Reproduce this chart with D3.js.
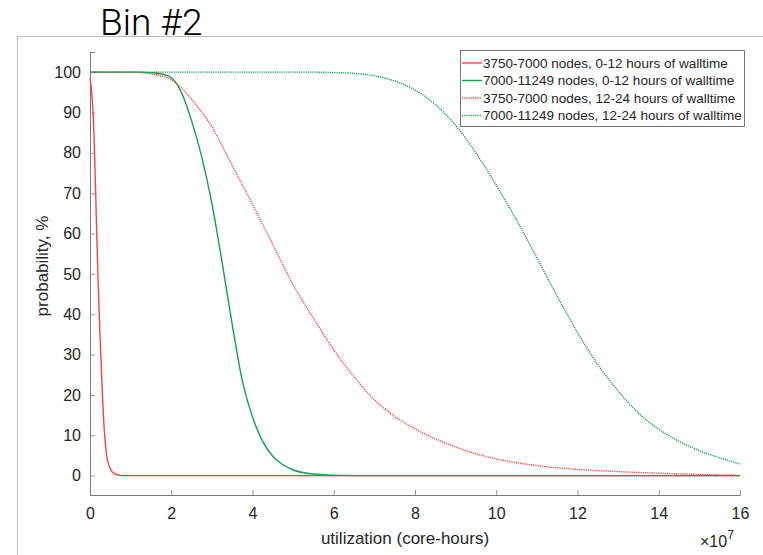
<!DOCTYPE html>
<html>
<head>
  <meta charset="UTF-8">
  <title>Bin #2</title>
  <style>
    body { margin: 0; background: #fff; }
    svg { display: block; }
    text { font-family: "Liberation Sans", Arial, Helvetica, sans-serif; fill: #262626; }
    .title { font-family: Roboto, "Liberation Sans", sans-serif; font-weight: 300; fill: #000; }
  </style>
</head>
<body>
  <div id="chart"></div>
  <script src="https://d3js.org/d3.v7.min.js"></script>
  <script>
    // values (x in units of 1e7 core-hours, y in %)
    const xTicks = [0, 2, 4, 6, 8, 10, 12, 14, 16];
    const yTicks = [0, 10, 20, 30, 40, 50, 60, 70, 80, 90, 100];

    const seriesNames = [
      "3750-7000 nodes, 0-12 hours of walltime",
      "7000-11249 nodes, 0-12 hours of walltime",
      "3750-7000 nodes, 12-24 hours of walltime",
      "7000-11249 nodes, 12-24 hours of walltime"
    ];

    const redSolidX = [0, 0.05, 0.1, 0.15, 0.2, 0.25, 0.3, 0.35, 0.4, 0.45, 0.5, 0.55, 0.6, 0.7, 0.8, 16];
    const redSolidY = [98.5, 94, 84, 66, 48, 34, 21.5, 11.5, 5.8, 3.1, 1.7, 0.9, 0.5, 0.15, 0, 0];

    const greenSolidX = [0, 1.25, 1.5, 1.75, 2, 2.25, 2.5, 2.75, 3, 3.25, 3.5, 3.75, 4, 4.25, 4.5, 4.75, 5, 5.5, 6, 6.5, 16];
    const greenSolidY = [100, 100, 99.9, 99.6, 98.6, 95, 88, 79, 67.5, 53, 37.5, 23.5, 14.5, 8.5, 4.8, 2.7, 1.4, 0.4, 0.1, 0, 0];

    const redDotX = [0, 1, 1.5, 2, 2.5, 3, 3.5, 4, 4.5, 5, 5.5, 6, 6.5, 7, 7.5, 8, 9, 10, 11, 12, 13, 14, 15, 16];
    const redDotY = [100, 100, 99.6, 98.1, 93.3, 86.4, 76.9, 67.2, 57.3, 47.3, 39, 31.2, 24.5, 18.8, 14.7, 11.6, 7.1, 4.15, 2.5, 1.55, 1, 0.6, 0.3, 0.1];

    const greenDotX = [0, 5.5, 6, 6.5, 7, 7.5, 8, 8.5, 9, 9.5, 10, 10.5, 11, 11.5, 12, 12.5, 13, 13.5, 14, 14.5, 15, 15.5, 16];
    const greenDotY = [100, 100, 99.9, 99.7, 99.1, 97.8, 95.6, 92, 86.8, 80, 72, 63.3, 54, 44.5, 35.5, 27.5, 21, 15.5, 11.5, 8.5, 6.2, 4.4, 2.9];

    const red = "#ff4040";
    const green = "#14a05a";

    const series = [
      { name: seriesNames[0], xs: redSolidX, ys: redSolidY, color: red, dash: null },
      { name: seriesNames[1], xs: greenSolidX, ys: greenSolidY, color: green, dash: null },
      { name: seriesNames[2], xs: redDotX, ys: redDotY, color: red, dash: "1.2,1" },
      { name: seriesNames[3], xs: greenDotX, ys: greenDotY, color: green, dash: "1.2,1" }
    ];

    const width = 763, height = 555;
    const svg = d3.select("#chart").append("svg")
      .attr("width", width)
      .attr("height", height);

    // outer grey frame
    svg.append("rect")
      .attr("x", 17.5).attr("y", 36.5)
      .attr("width", 800).attr("height", 600)
      .attr("fill", "none")
      .attr("stroke", "#bdbdbd");

    svg.append("text")
      .attr("class", "title")
      .attr("x", 100).attr("y", 35)
      .attr("font-size", "37px")
      .text("Bin #2");

    const x = d3.scaleLinear().domain([0, 16]).range([90, 740]);
    const y = d3.scaleLinear().domain([-4.8, 105]).range([495, 52]);

    const xAxis = svg.append("g")
      .attr("transform", "translate(0,495)")
      .call(d3.axisBottom(x).tickValues(xTicks).tickSize(-5).tickPadding(13).tickFormat(d3.format("d")));
    const yAxis = svg.append("g")
      .attr("transform", "translate(90,0)")
      .call(d3.axisLeft(y).tickValues(yTicks).tickSize(-5).tickPadding(9).tickFormat(d3.format("d")));

    [xAxis, yAxis].forEach(function(g) {
      g.select(".domain").attr("stroke", "#7a7a7a").attr("stroke-width", 1);
      g.selectAll(".tick line").attr("stroke", "#9a9a9a");
      g.selectAll(".tick text")
        .attr("fill", "#262626")
        .attr("font-size", "16px")
        .attr("font-family", "'Liberation Sans', Arial, sans-serif");
    });

    svg.append("text")
      .attr("x", 405).attr("y", 544)
      .attr("text-anchor", "middle")
      .attr("font-size", "17px")
      .text("utilization (core-hours)");

    const expo = svg.append("text")
      .attr("x", 700).attr("y", 547)
      .attr("font-size", "16px");
    expo.append("tspan").text("\u00d710");
    expo.append("tspan").attr("dy", -8).attr("font-size", "12px").text("7");

    svg.append("text")
      .attr("transform", "translate(48,266) rotate(-90)")
      .attr("text-anchor", "middle")
      .attr("font-size", "17px")
      .text("probability, %");

    const line = d3.line()
      .x(function(d) { return x(d[0]); })
      .y(function(d) { return y(d[1]); })
      .curve(d3.curveMonotoneX);

    series.forEach(function(s) {
      const pts = s.xs.map(function(v, i) { return [v, s.ys[i]]; });
      const p = svg.append("path")
        .datum(pts)
        .attr("d", line)
        .attr("fill", "none")
        .attr("stroke", s.color)
        .attr("stroke-width", 1.4);
      if (s.dash) p.attr("stroke-dasharray", s.dash);
    });

    // legend
    const lg = svg.append("g");
    lg.append("rect")
      .attr("x", 460.5).attr("y", 50.5)
      .attr("width", 284).attr("height", 76)
      .attr("fill", "#fff")
      .attr("stroke", "#555")
      .attr("stroke-width", 0.8);
    series.forEach(function(s, i) {
      const ry = 63 + i * 17.5;
      const l = lg.append("line")
        .attr("x1", 462).attr("x2", 482)
        .attr("y1", ry).attr("y2", ry)
        .attr("stroke", s.color)
        .attr("stroke-width", 1.4);
      if (s.dash) l.attr("stroke-dasharray", s.dash);
      lg.append("text")
        .attr("x", 483).attr("y", ry + 4.5)
        .attr("font-size", "13.5px")
        .attr("fill", "#000")
        .text(s.name);
    });
  </script>
</body>
</html>
